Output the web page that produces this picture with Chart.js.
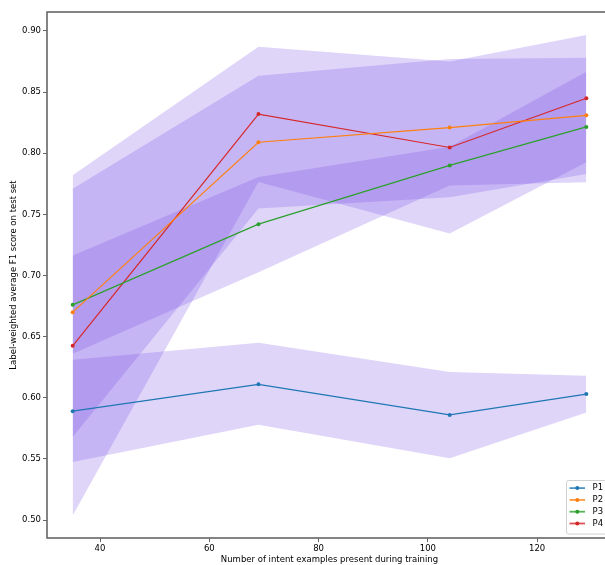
<!DOCTYPE html>
<html>
<head>
<meta charset="utf-8">
<script src="https://cdn.jsdelivr.net/npm/chart.js@4.4.1/dist/chart.umd.min.js"></script>
<style>
    html, body { margin: 0; padding: 0; overflow: hidden; background: #fff; }
    #wrap { width: 640px; height: 565px; }
</style>
</head>
<body>
<div id="wrap"><canvas id="f1Chart" width="640" height="565"></canvas></div>
<script>
// values
const xValues = [35, 69, 104, 129];
const xTicks = [40, 60, 80, 100, 120];
const yTicks = [0.50, 0.55, 0.60, 0.65, 0.70, 0.75, 0.80, 0.85, 0.90];

const seriesNames = ['P1', 'P2', 'P3', 'P4'];
const seriesColors = ['#1f77b4', '#ff7f0e', '#2ca02c', '#d62728'];

const p1Mean = [0.589, 0.611, 0.586, 0.603];
const p2Mean = [0.670, 0.809, 0.821, 0.831];
const p3Mean = [0.676, 0.742, 0.790, 0.8215];
const p4Mean = [0.6425, 0.832, 0.8047, 0.845];

const p1Lower = [0.5475, 0.578, 0.5505, 0.588];
const p1Upper = [0.631, 0.645, 0.621, 0.618];
const p2Lower = [0.568, 0.7547, 0.764, 0.783];
const p2Upper = [0.771, 0.8633, 0.877, 0.878];
const p3Lower = [0.636, 0.7026, 0.7736, 0.7763];
const p3Upper = [0.7164, 0.7806, 0.8052, 0.8666];
const p4Lower = [0.5038, 0.7764, 0.7343, 0.7927];
const p4Upper = [0.782, 0.887, 0.875, 0.8967];

const bandFill = 'rgba(118, 74, 228, 0.23)';
const spineColor = '#666666';
const fontFamily = '"DejaVu Sans", sans-serif';
const fontSize = 8.5;

const toPoints = (arr) => xValues.map((x, i) => ({ x: x, y: arr[i] }));

const means = [p1Mean, p2Mean, p3Mean, p4Mean];
const bands = [[p1Lower, p1Upper], [p2Lower, p2Upper], [p3Lower, p3Upper], [p4Lower, p4Upper]];

const datasets = [];
means.forEach((m, i) => {
    datasets.push({
        label: seriesNames[i],
        data: toPoints(m),
        borderColor: seriesColors[i],
        backgroundColor: seriesColors[i],
        borderWidth: 1.2,
        pointRadius: 2,
        pointBorderWidth: 0,
        fill: false,
        tension: 0
    });
});
bands.forEach(([lo, hi]) => {
    datasets.push({
        label: 'band-lo',
        data: toPoints(lo),
        borderColor: 'rgba(0,0,0,0)',
        borderWidth: 0,
        pointRadius: 0,
        fill: false
    });
    datasets.push({
        label: 'band-hi',
        data: toPoints(hi),
        borderColor: 'rgba(0,0,0,0)',
        borderWidth: 0,
        pointRadius: 0,
        backgroundColor: bandFill,
        fill: '-1'
    });
});

const axesFrame = {
    id: 'axesFrame',
    afterDatasetsDraw(chart) {
        const { ctx, chartArea } = chart;
        ctx.save();
        ctx.strokeStyle = spineColor;
        ctx.lineWidth = 1.6;
        ctx.strokeRect(chartArea.left, chartArea.top, chartArea.right - chartArea.left, chartArea.bottom - chartArea.top);
        ctx.restore();
    }
};

const innerLegend = {
    id: 'innerLegend',
    afterDraw(chart) {
        const { ctx, chartArea } = chart;
        const w = 42, h = 53.5;
        const x = chartArea.right - 45.5;
        const y = chartArea.bottom - 4 - h;
        ctx.save();
        ctx.fillStyle = 'rgba(255,255,255,0.8)';
        ctx.strokeStyle = '#d0d0d0';
        ctx.lineWidth = 1;
        ctx.beginPath();
        ctx.roundRect(x, y, w, h, 2);
        ctx.fill();
        ctx.stroke();
        ctx.font = fontSize + 'px ' + fontFamily;
        ctx.textBaseline = 'middle';
        seriesNames.forEach((name, i) => {
            const ly = y + 7.6 + i * 11.8;
            ctx.globalAlpha = 0.8;
            ctx.strokeStyle = seriesColors[i];
            ctx.lineWidth = 1.8;
            ctx.beginPath();
            ctx.moveTo(x + 3, ly);
            ctx.lineTo(x + 18.5, ly);
            ctx.stroke();
            ctx.globalAlpha = 1;
            ctx.fillStyle = seriesColors[i];
            ctx.beginPath();
            ctx.arc(x + 10.8, ly, 2, 0, Math.PI * 2);
            ctx.fill();
            ctx.fillStyle = '#000';
            ctx.fillText(name, x + 26, ly);
        });
        ctx.restore();
    }
};

new Chart(document.getElementById('f1Chart').getContext('2d'), {
    type: 'line',
    data: { datasets: datasets },
    plugins: [axesFrame, innerLegend],
    options: {
        responsive: false,
        animation: false,
        layout: { padding: { top: 12, right: 28, left: 0, bottom: 0 } },
        plugins: {
            legend: { display: false },
            tooltip: { enabled: false },
            filler: { drawTime: 'beforeDatasetsDraw' }
        },
        scales: {
            x: {
                type: 'linear',
                min: 30.3,
                max: 133.7,
                afterBuildTicks: (axis) => { axis.ticks = xTicks.map(v => ({ value: v })); },
                afterFit: (scale) => { scale.height = 27; },
                grid: { drawOnChartArea: false, tickLength: 4, color: spineColor, lineWidth: 1 },
                border: { display: false },
                ticks: { color: '#000', padding: 2, maxRotation: 0, font: { family: fontFamily, size: fontSize } },
                title: {
                    display: true,
                    text: 'Number of intent examples present during training',
                    color: '#000',
                    padding: { top: 0, bottom: 0 },
                    font: { family: fontFamily, size: fontSize }
                }
            },
            y: {
                min: 0.4853,
                max: 0.9155,
                afterBuildTicks: (axis) => { axis.ticks = yTicks.map(v => ({ value: v })); },
                afterFit: (scale) => { scale.width = 47; },
                grid: { drawOnChartArea: false, tickLength: 4, color: spineColor, lineWidth: 1 },
                border: { display: false },
                ticks: {
                    color: '#000',
                    padding: 2,
                    font: { family: fontFamily, size: fontSize },
                    callback: (val) => Number(val).toFixed(2)
                },
                title: {
                    display: true,
                    text: 'Label-weighted average F1 score on test set',
                    color: '#000',
                    padding: { top: 9, bottom: 0 },
                    font: { family: fontFamily, size: fontSize }
                }
            }
        }
    }
});
</script>
</body>
</html>
